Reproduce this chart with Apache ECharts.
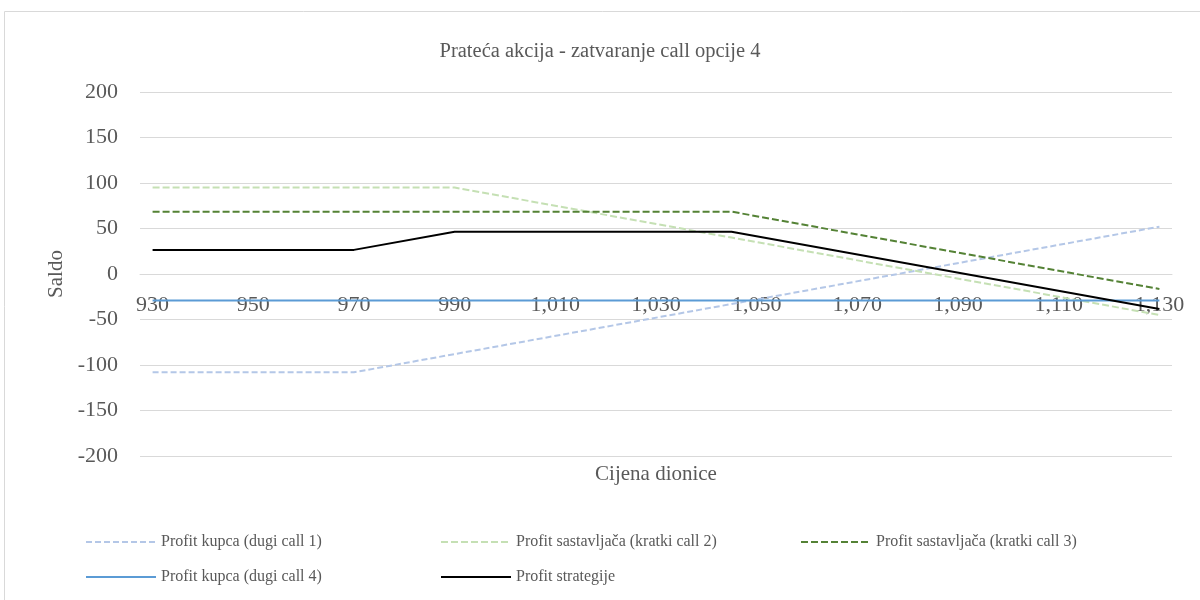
<!DOCTYPE html>
<html lang="hr">

<head>
  <meta charset="UTF-8">
  <title>Prateća akcija - zatvaranje call opcije 4</title>
  <script src="https://cdn.jsdelivr.net/npm/echarts@6.0.0/dist/echarts.min.js"></script>
  <style>
    html, body {
      margin: 0;
      padding: 0;
      background: #fff;
    }

    #chart {
      width: 1200px;
      height: 600px;
    }
  </style>
</head>

<body>
  <div id="chart"></div>

  <script>
    // cijena dionice (x) i saldo za svaku opciju
    const cijena = [930, 970, 990, 1045, 1130]
    const call1 = [-108, -108, -88, -33, 52]
    const call2 = [95, 95, 95, 40, -45]
    const call3 = [68.5, 68.5, 68.5, 68.5, -16.5]
    const call4 = [-29, -29, -29, -29, -29]
    const strategija = [26.5, 26.5, 46.5, 46.5, -38.5]

    const names = [
      'Profit kupca (dugi call 1)',
      'Profit sastavljača (kratki call 2)',
      'Profit sastavljača (kratki call 3)',
      'Profit kupca (dugi call 4)',
      'Profit strategije'
    ]

    const font = '"Liberation Serif", "Times New Roman", serif'
    const grey = '#595959'

    function pairs(ys) {
      return cijena.map((x, i) => [x, ys[i]])
    }

    function lineSeries(name, ys, color, type) {
      return {
        name: name,
        type: 'line',
        data: pairs(ys),
        symbol: 'none',
        lineStyle: { color: color, width: 2, type: type },
        itemStyle: { color: color }
      }
    }

    // legenda u stupcima kao u Excelu
    const legendPos = [[80, 529], [435, 529], [795, 529], [80, 564], [435, 564]]
    const legends = names.map((n, i) => ({
      data: [n],
      left: legendPos[i][0],
      top: legendPos[i][1],
      itemWidth: 70,
      itemHeight: 14,
      itemStyle: { opacity: 0 },
      textStyle: { fontFamily: font, fontSize: 16, color: grey }
    }))

    const myChart = echarts.init(document.getElementById('chart'))
    const option = {
      animation: false,
      graphic: [{
        type: 'rect',
        shape: { x: 4.5, y: 11.5, width: 1220, height: 620 },
        style: { fill: 'none', stroke: '#d9d9d9', lineWidth: 1 }
      }],
      title: {
        text: 'Prateća akcija - zatvaranje call opcije 4',
        left: 'center',
        top: 36,
        textStyle: { fontFamily: font, fontSize: 20.5, fontWeight: 'normal', color: grey }
      },
      legend: legends,
      grid: { left: 140, right: 28, top: 92, bottom: 144, outerBoundsMode: 'none' },
      xAxis: {
        type: 'value',
        min: 927.5,
        max: 1132.5,
        interval: 2.5,
        // os crta na nuli (Excel: os siječe vertikalnu na 0)
        position: 'bottom',
        offset: -182,
        name: 'Cijena dionice',
        nameLocation: 'middle',
        nameGap: 190,
        nameTextStyle: { fontFamily: font, fontSize: 21, color: grey },
        axisLine: { show: true, onZero: false, lineStyle: { color: '#d9d9d9', width: 1 } },
        axisTick: { show: false },
        splitLine: { show: false },
        axisLabel: {
          margin: 20,
          fontFamily: font,
          fontSize: 22,
          color: grey,
          formatter: function (v) {
            const k = (v - 930) / 20
            if (v < 929 || v > 1131 || Math.abs(k - Math.round(k)) > 1e-6) return ''
            return Math.round(v).toLocaleString('en-US')
          }
        }
      },
      yAxis: {
        type: 'value',
        min: -200,
        max: 200,
        interval: 50,
        name: 'Saldo',
        nameLocation: 'middle',
        nameGap: 73,
        nameTextStyle: { fontFamily: font, fontSize: 21, color: grey },
        axisLine: { show: false },
        axisTick: { show: false },
        axisLabel: { margin: 22, fontFamily: font, fontSize: 22, color: grey },
        splitLine: { lineStyle: { color: '#d9d9d9', width: 1 } }
      },
      series: [
        lineSeries(names[0], call1, '#b4c7e7', [6, 3]),
        lineSeries(names[1], call2, '#c5e0b4', [7, 3]),
        lineSeries(names[2], call3, '#548235', [7, 3]),
        lineSeries(names[3], call4, '#5b9bd5', 'solid'),
        lineSeries(names[4], strategija, '#000000', 'solid')
      ]
    }
    myChart.setOption(option)
  </script>
</body>

</html>
